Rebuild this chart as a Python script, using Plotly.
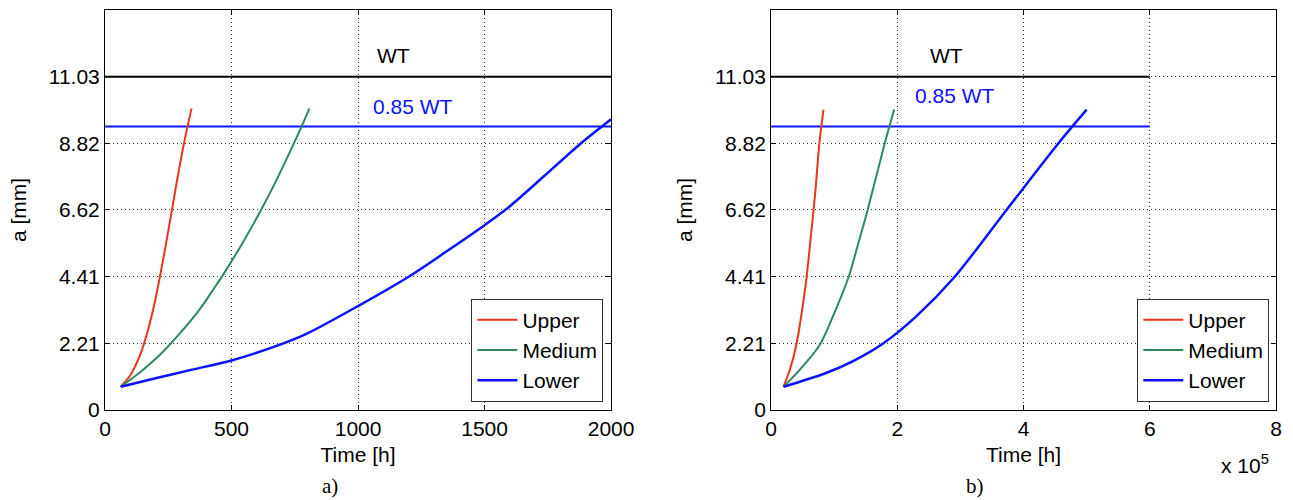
import plotly.graph_objects as go

# ---------------- data ----------------
WT = 11.03
WT85 = 9.38
y_ticks = [0, 2.21, 4.41, 6.62, 8.82, 11.03]
y_ticktext = ["0", "2.21", "4.41", "6.62", "8.82", "11.03"]

# panel a) time in hours
a_upper_t = [62, 100, 140, 170, 195, 217, 240, 263, 288, 312, 342]
a_upper_a = [0.77, 1.15, 1.85, 2.65, 3.50, 4.41, 5.45, 6.55, 7.75, 8.82, 9.98]
a_medium_t = [62, 140, 215, 294, 375, 424, 467, 543, 616, 677, 739, 778, 808]
a_medium_a = [0.77, 1.26, 1.81, 2.52, 3.34, 3.94, 4.48, 5.52, 6.61, 7.60, 8.69, 9.40, 9.98]
a_lower_t = [62, 204, 336, 500, 664, 796, 1000, 1200, 1350, 1480, 1585, 1730, 1880, 2000]
a_lower_a = [0.77, 1.06, 1.32, 1.64, 2.08, 2.52, 3.44, 4.41, 5.25, 6.00, 6.64, 7.70, 8.82, 9.62]
a_xlim = [0, 2000]

# panel b) time in hours (axis shown in units of 1e5)
b_upper_t = [19700, 30000, 40000, 48000, 56000, 64000, 70000, 76500, 83000]
b_upper_a = [0.77, 1.35, 2.15, 3.15, 4.35, 5.95, 7.20, 8.82, 9.94]
b_medium_t = [19700, 45000, 77000, 100000, 123000, 138000, 153000, 180000, 195000]
b_medium_a = [0.77, 1.32, 2.15, 3.20, 4.41, 5.50, 6.62, 8.82, 9.94]
b_lower_t = [19700, 84000, 130000, 178000, 230000, 291000, 373000, 455000, 500000]
b_lower_a = [0.77, 1.20, 1.62, 2.21, 3.10, 4.41, 6.62, 8.82, 9.94]
b_hline_t = [0, 600000]
b_xticks = [0, 200000, 400000, 600000, 800000]
b_xticktext = ["0", "2", "4", "6", "8"]

series_names = ["Upper", "Medium", "Lower"]
series_colors = ["#e8361c", "#2e8a5c", "#0a14ff"]
series_widths = [2, 2, 2.5]

FONT = "Liberation Sans, Arial, sans-serif"
FS = 21

# frame geometry (pixels)
W, H = 1293, 500
ML, MR, MT, MB = 104.5, 17.3, 9.5, 89.5
IW = W - ML - MR
IH = H - MT - MB


def px(xpix):
    return (xpix - ML) / IW


def py(ypix):
    return (H - MB - ypix) / IH


fig = go.Figure()

# ---------- panel a ----------
fig.add_trace(go.Scatter(x=a_xlim, y=[WT, WT], mode="lines", line=dict(color="black", width=2),
                         showlegend=False, xaxis="x", yaxis="y"))
fig.add_trace(go.Scatter(x=a_xlim, y=[WT85, WT85], mode="lines", line=dict(color="#0a14ff", width=2),
                         showlegend=False, xaxis="x", yaxis="y"))
for name, col, w, tx, ay in zip(series_names, series_colors, series_widths,
                                [a_upper_t, a_medium_t, a_lower_t],
                                [a_upper_a, a_medium_a, a_lower_a]):
    fig.add_trace(go.Scatter(x=tx, y=ay, mode="lines", name=name,
                             line=dict(color=col, width=w, shape="spline", smoothing=0.8),
                             xaxis="x", yaxis="y", legend="legend"))

# ---------- panel b ----------
fig.add_trace(go.Scatter(x=b_hline_t, y=[WT, WT], mode="lines", line=dict(color="black", width=2),
                         showlegend=False, xaxis="x2", yaxis="y2"))
fig.add_trace(go.Scatter(x=b_hline_t, y=[WT85, WT85], mode="lines", line=dict(color="#0a14ff", width=2),
                         showlegend=False, xaxis="x2", yaxis="y2"))
for name, col, w, tx, ay in zip(series_names, series_colors, series_widths,
                                [b_upper_t, b_medium_t, b_lower_t],
                                [b_upper_a, b_medium_a, b_lower_a]):
    fig.add_trace(go.Scatter(x=tx, y=ay, mode="lines", name=name,
                             line=dict(color=col, width=w, shape="spline", smoothing=0.8),
                             xaxis="x2", yaxis="y2", legend="legend2"))

axis_common = dict(
    showline=True, linecolor="black", linewidth=1, mirror="ticks",
    ticks="inside", ticklen=5, tickcolor="black",
    showgrid=True, gridcolor="#333333", griddash="1px,3px", gridwidth=1,
    zeroline=False, automargin=False,
    tickfont=dict(family=FONT, size=FS, color="black"),
    title_font=dict(family=FONT, size=FS, color="black"),
)

legend_common = dict(xanchor="right", yanchor="bottom", bgcolor="white", bordercolor="#333333",
                     borderwidth=1, font=dict(family=FONT, size=FS, color="black"),
                     tracegroupgap=0, itemwidth=40)
fig.update_layout(
    width=W, height=H,
    margin=dict(l=ML, r=MR, t=MT, b=MB, autoexpand=False),
    paper_bgcolor="white", plot_bgcolor="white",
    font=dict(family=FONT, size=FS, color="black"),
    xaxis=dict(domain=[px(104.5), px(610.7)], range=a_xlim, tickvals=[0, 500, 1000, 1500, 2000],
               title=dict(text="Time [h]", standoff=8), anchor="y", **axis_common),
    yaxis=dict(domain=[0, 1], range=[0, 1.2 * WT], tickvals=y_ticks, ticktext=y_ticktext,
               title=dict(text="a [mm]", standoff=16), anchor="x", **axis_common),
    xaxis2=dict(domain=[px(770.7), px(1275.7)], range=[0, 800000], tickvals=b_xticks,
                ticktext=b_xticktext, title=dict(text="Time [h]", standoff=8), anchor="y2", **axis_common),
    yaxis2=dict(domain=[0, 1], range=[0, 1.2 * WT], tickvals=y_ticks, ticktext=y_ticktext,
                title=dict(text="a [mm]", standoff=16), anchor="x2", **axis_common),
    legend=dict(x=px(603), y=py(402), **legend_common),
    legend2=dict(x=px(1269), y=py(402), **legend_common),
    showlegend=True,
)

annots = [
    dict(x=1142, y=11.74, xref="x", yref="y", text="WT", font=dict(color="black", size=FS)),
    dict(x=1218, y=10.05, xref="x", yref="y", text="0.85 WT", font=dict(color="#0a14ff", size=FS)),
    dict(x=278000, y=11.74, xref="x2", yref="y2", text="WT", font=dict(color="black", size=FS)),
    dict(x=291000, y=10.4, xref="x2", yref="y2", text="0.85 WT", font=dict(color="#0a14ff", size=FS)),
    dict(x=px(1245), y=py(465), xref="paper", yref="paper", text="x 10<sup>5</sup>",
         font=dict(color="black", size=FS)),
    dict(x=px(330), y=py(487), xref="paper", yref="paper", text="a)",
         font=dict(family="Liberation Serif, Times New Roman, serif", color="black", size=21)),
    dict(x=px(975), y=py(487), xref="paper", yref="paper", text="b)",
         font=dict(family="Liberation Serif, Times New Roman, serif", color="black", size=21)),
]
for a in annots:
    a.setdefault("showarrow", False)
    a["xanchor"] = "center"
    a["yanchor"] = "middle"
    a["font"].setdefault("family", FONT)
    fig.add_annotation(**a)

fig.write_html("out.html")
